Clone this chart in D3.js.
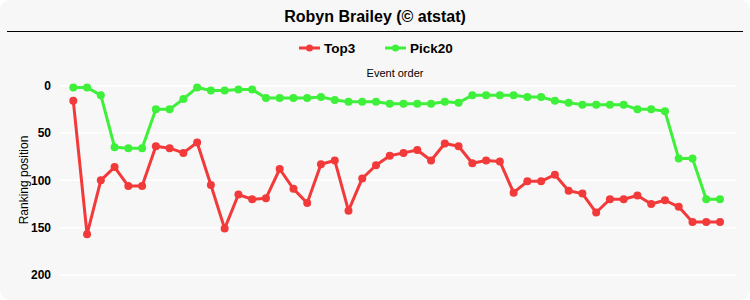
<!DOCTYPE html>
<html><head><meta charset="utf-8">
<script src="https://cdn.jsdelivr.net/npm/d3@7"></script>
<style>html,body{margin:0;padding:0;background:#fff;}svg{display:block;font-family:"Liberation Sans",Arial,sans-serif;}</style>
</head><body>
<svg id="c" width="750" height="300"></svg>
<script>
const title = "Robyn Brailey (© atstat)";
const seriesNames = ["Top3", "Pick20"];
const top3 = [16,157,100,86,106,106,64,66,71,60,105,151,115,120,119,88,109,124,83,79,132,98,84,74,71,68,79,61,64,82,79,80,113,101,101,94,111,114,134,120,120,116,125,121,128,144,144,144];
const pick20 = [2,2,10,65,66,66,25,25,14,2,5,5,4,4,13,13,13,13,12,15,17,17,17,19,19,19,19,17,18,10,10,10,10,12,12,16,18,20,20,20,20,25,25,27,77,77,120,120];
const yTicks = [0,50,100,150,200];
const colors = ["#f23a3a", "#3ef03a"];

const svg = d3.select("#c");
svg.append("rect").attr("x",0).attr("y",0).attr("width",750).attr("height",300).attr("rx",10).attr("fill","#f7f7f7");

svg.append("text").attr("x",375).attr("y",22).attr("text-anchor","middle")
  .attr("font-size",16).attr("font-weight","bold").attr("fill","#000").text(title);
svg.append("line").attr("x1",7).attr("x2",743).attr("y1",31.5).attr("y2",31.5).attr("stroke","#000").attr("stroke-width",1.2);

const events = d3.range(1, top3.length+1);
const x = d3.scalePoint().domain(events).range([73.3, 720]);
const y = d3.scaleLinear().domain([0,200]).range([85.7, 275]);

svg.append("g").selectAll("line").data(yTicks).join("line")
  .attr("x1",59).attr("x2",737).attr("y1",d=>y(d)).attr("y2",d=>y(d))
  .attr("stroke","#ffffff").attr("stroke-width",1.5);

const yAxis = d3.axisLeft(y).tickValues(yTicks).tickSize(0).tickPadding(0);
const ga = svg.append("g").attr("transform","translate(51,0)").call(yAxis);
ga.select(".domain").remove();
ga.selectAll("text").attr("font-size",12).attr("font-weight","bold").attr("fill","#000")
  .attr("font-family","'Liberation Sans',Arial,sans-serif");

svg.append("text").attr("transform","translate(28,180) rotate(-90)").attr("text-anchor","middle")
  .attr("font-size",12).attr("fill","#000").text("Ranking position");
svg.append("text").attr("x",395).attr("y",77).attr("text-anchor","middle")
  .attr("font-size",11).attr("fill","#000").text("Event order");

const legX = [299, 385];
seriesNames.forEach((n,i)=>{
  const g = svg.append("g");
  g.append("line").attr("x1",legX[i]).attr("x2",legX[i]+21).attr("y1",48).attr("y2",48)
    .attr("stroke",colors[i]).attr("stroke-width",3);
  g.append("circle").attr("cx",legX[i]+10.5).attr("cy",48).attr("r",3.5).attr("fill",colors[i]);
  g.append("text").attr("x",legX[i]+25).attr("y",52.5).attr("font-size",13.5).attr("font-weight","bold")
    .attr("fill","#000").text(n);
});

const line = d3.line().x((d,i)=>x(events[i])).y(d=>y(d));
[pick20, top3].forEach((data,k)=>{
  const c = k===0 ? colors[1] : colors[0];
  svg.append("path").datum(data).attr("d",line).attr("fill","none").attr("stroke",c).attr("stroke-width",3).attr("stroke-linejoin","round");
  svg.append("g").selectAll("circle").data(data).join("circle")
    .attr("cx",(d,i)=>x(events[i])).attr("cy",d=>y(d)).attr("r",4).attr("fill",c);
});
</script>
</body></html>
